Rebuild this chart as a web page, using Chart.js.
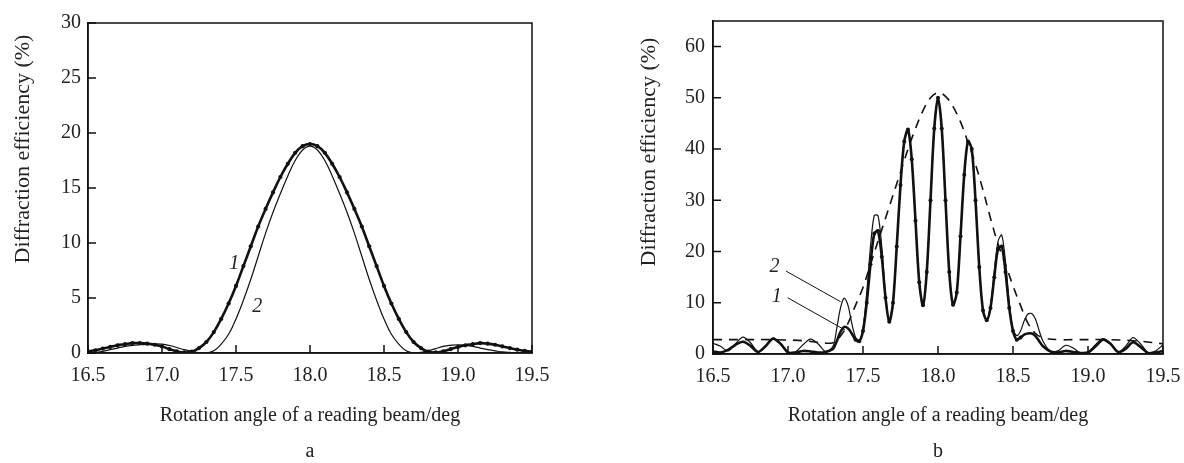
<!DOCTYPE html>
<html>
<head>
<meta charset="utf-8">
<script src="https://cdn.jsdelivr.net/npm/chart.js@4"></script>
<style>
  html,body{margin:0;padding:0;background:#fff;overflow:hidden;}
  #wrap{position:relative;width:1184px;height:463px;overflow:hidden;}
  canvas{position:absolute;top:0;}
</style>
</head>
<body>
<div id="wrap">
  <canvas id="ca" width="592" height="463" style="left:0"></canvas>
  <canvas id="cb" width="602" height="463" style="left:592px"></canvas>
</div>
<script>
// ---------- Panel a data ----------
const angleA = [16.5,16.55,16.6,16.65,16.7,16.75,16.8,16.85,16.9,16.95,
  17,17.05,17.1,17.15,17.2,17.25,17.3,17.35,17.4,17.45,
  17.5,17.55,17.6,17.65,17.7,17.75,17.8,17.85,17.9,17.95,
  18,18.05,18.1,18.15,18.2,18.25,18.3,18.35,18.4,18.45,
  18.5,18.55,18.6,18.65,18.7,18.75,18.8,18.85,18.9,18.95,
  19,19.05,19.1,19.15,19.2,19.25,19.3,19.35,19.4,19.45,19.5];
const curve1A = [0.15,0.25,0.4,0.55,0.7,0.8,0.9,0.9,0.85,0.75,
  0.6,0.35,0.15,0.05,0.12,0.45,1.0,1.9,3.1,4.5,
  6.1,7.9,9.7,11.5,13.1,14.6,16.0,17.2,18.2,18.8,
  19.0,18.8,18.2,17.2,16.0,14.6,13.1,11.5,9.7,7.9,
  6.1,4.5,3.1,1.9,1.0,0.45,0.12,0.05,0.15,0.35,
  0.55,0.7,0.8,0.9,0.85,0.75,0.6,0.45,0.3,0.2,0.1];
const curve2A = [0.05,0.05,0.15,0.3,0.45,0.6,0.7,0.75,0.78,0.82,
  0.8,0.68,0.5,0.3,0.15,0.04,0.0,0.2,0.8,1.7,
  3.1,4.8,6.7,8.8,10.9,12.8,14.5,16.1,17.5,18.45,
  18.8,18.45,17.5,16.1,14.5,12.8,10.9,8.8,6.7,4.8,
  3.1,1.7,0.8,0.2,0.0,0.05,0.2,0.4,0.6,0.7,
  0.75,0.7,0.6,0.45,0.3,0.2,0.1,0.05,0.02,0.05,0.1];
const xTicks = [16.5,17.0,17.5,18.0,18.5,19.0,19.5];
const yTicksA = [0,5,10,15,20,25,30];

// ---------- Panel b data ----------
const angleB = [16.5,16.55,16.6,16.65,16.7,16.75,16.8,16.85,16.9,16.95,17.0,17.05,17.1,17.15,17.2,17.25,
  17.3,17.325,17.35,17.375,17.4,17.425,17.45,17.475,17.5,17.525,
  17.55,17.575,17.6,17.625,17.65,17.675,17.7,17.725,17.75,17.775,
  17.8,17.825,17.85,17.875,17.9,17.925,17.95,17.975,18.0,18.025,
  18.05,18.075,18.1,18.125,18.15,18.175,18.2,18.225,18.25,18.275,
  18.3,18.325,18.35,18.375,18.4,18.425,18.45,18.475,18.5,18.525,
  18.55,18.575,18.6,18.625,18.65,18.675,18.7,
  18.75,18.8,18.85,18.9,18.95,19.0,19.05,19.1,19.15,19.2,19.25,19.3,19.35,19.4,19.45,19.5];
const curve1B = [0.5,0.3,0.8,1.8,2.4,1.6,0.4,1.5,3.0,2.0,0.3,0.3,0.6,0.5,0.3,0.4,
  1.0,2.5,4.3,5.3,5.0,4.0,2.8,2.5,4.5,10,
  17.5,23.5,24.0,19,11,6.3,10,21,33,41.5,
  43.8,38,26,14,9.5,16,30,44,50,44,
  30,16,9.6,12,23,35,41.5,40,30,17,
  8.5,6.6,9,15,20.5,21,16,9,4.5,2.8,
  3.2,3.8,4.0,4.0,3.5,2.5,1.5,
  0.5,0.3,0.6,0.4,0.2,0.3,1.5,2.8,2.0,0.4,1.0,2.3,1.4,0.2,0.3,0.6];
const curve2B = [2.1,1.5,0.6,2.0,3.3,2.2,0.4,1.6,3.1,2.0,0.2,0.4,1.8,2.9,2.0,0.5,
  1.5,5.0,9.0,10.9,9.5,6.0,3.3,2.6,5.0,12,
  21,27,27,21,11.5,6.5,10,21,33,41.5,
  43.8,38,26,14,9.5,16,30,44,50,44,
  30,16,9.6,12,23,35,41.5,40,30,17,
  8.5,6.6,9.5,16,22,23.2,18,10,4.8,3.6,
  4.5,6.5,7.8,7.9,6.8,4.5,2.5,
  0.5,0.6,1.7,1.2,0.2,0.4,1.8,3.0,2.0,0.3,1.5,3.2,2.0,0.3,0.6,1.8];
const angleEnv = [16.5,16.7,16.9,17.1,17.2,17.3,
  17.35,17.4,17.45,17.5,17.55,17.6,17.65,17.7,17.75,17.8,
  17.85,17.9,17.95,18.0,18.05,18.1,18.15,18.2,18.25,18.3,
  18.35,18.4,18.45,18.5,18.55,18.6,18.65,18.7,
  18.8,18.9,19.1,19.3,19.5];
const envB = [2.8,2.8,2.8,2.6,2.3,2.2,
  3.5,6,9.5,13,17.5,22,26.5,31,35.5,40,
  44,47.5,50,51,50.3,48.3,45.3,41.3,37,32,
  26.5,21.5,17.5,13.3,9.5,6,4,3.2,
  2.8,2.8,2.8,2.6,2.0];
const yTicksB = [0,10,20,30,40,50,60];

const xTitle = 'Rotation angle of a reading beam/deg';
const yTitle = 'Diffraction efficiency (%)';

// ---------- helpers ----------
const FONT = '"Liberation Serif", "DejaVu Serif", serif';
const INK = '#111';
const TXT = '#222';
Chart.defaults.font.family = FONT;
Chart.defaults.color = TXT;

const pts = (xs, ys) => xs.map((x, i) => ({x: x, y: ys[i]}));

const annot = {
  id: 'annot',
  afterDraw(chart, args, o) {
    const {ctx, chartArea: ca, scales} = chart;
    const sx = scales.x, sy = scales.y;
    ctx.save();
    ctx.strokeStyle = INK; ctx.lineWidth = 1.5;
    // inward tick marks
    ctx.beginPath();
    o.xt.forEach(v => { const p = sx.getPixelForValue(v); ctx.moveTo(p, ca.bottom); ctx.lineTo(p, ca.bottom - 8); });
    o.yt.forEach(v => { const p = sy.getPixelForValue(v); ctx.moveTo(ca.left, p); ctx.lineTo(ca.left + 8, p); });
    ctx.stroke();
    ctx.strokeRect(ca.left, ca.top, ca.right - ca.left, ca.bottom - ca.top);
    ctx.fillStyle = TXT;
    ctx.textAlign = 'center'; ctx.textBaseline = 'middle';
    ctx.font = '20px ' + FONT;
    const cx = (ca.left + ca.right) / 2;
    ctx.fillText(o.xTitle, cx, o.xTitleY);
    ctx.fillText(o.panel, cx, o.panelY);
    ctx.save();
    ctx.translate(o.yTitleX, o.yTitleY);
    ctx.rotate(-Math.PI / 2);
    ctx.font = '22px ' + FONT;
    ctx.fillText(o.yTitle, 0, 0);
    ctx.restore();
    ctx.font = 'italic 20px ' + FONT;
    o.labels.forEach(l => ctx.fillText(l.t, sx.getPixelForValue(l.x), sy.getPixelForValue(l.y)));
    ctx.lineWidth = 1;
    (o.leaders || []).forEach(l => {
      ctx.beginPath();
      ctx.moveTo(sx.getPixelForValue(l.x1), sy.getPixelForValue(l.y1));
      ctx.lineTo(sx.getPixelForValue(l.x2), sy.getPixelForValue(l.y2));
      ctx.stroke();
    });
    ctx.restore();
  }
};

function axes(ymax, yTicks, yWidth, xHeight, yPad) {
  const grid = {display: false, drawOnChartArea: false, drawTicks: false};
  return {
    x: {
      type: 'linear', min: 16.5, max: 19.5,
      afterBuildTicks: s => { s.ticks = xTicks.map(v => ({value: v})); },
      afterFit: s => { s.height = xHeight; },
      grid: grid,
      border: {display: true, color: INK, width: 1.5},
      ticks: {font: {size: 20}, padding: 11, color: TXT, maxRotation: 0,
        callback: v => Number(v).toFixed(1)}
    },
    y: {
      type: 'linear', min: 0, max: ymax,
      afterBuildTicks: s => { s.ticks = yTicks.map(v => ({value: v})); },
      afterFit: s => { s.width = yWidth; },
      grid: grid,
      border: {display: true, color: INK, width: 1.5},
      ticks: {font: {size: 20}, padding: yPad, color: TXT, callback: v => String(v)}
    }
  };
}

new Chart(document.getElementById('ca'), {
  type: 'line',
  data: {
    datasets: [
      {data: pts(angleA, curve1A), borderColor: INK, borderWidth: 2.6, tension: 0.4,
        pointRadius: 2.1, pointBackgroundColor: INK, pointBorderWidth: 0},
      {data: pts(angleA, curve2A), borderColor: INK, borderWidth: 1.2, tension: 0.4, pointRadius: 0}
    ]
  },
  options: {
    responsive: false, animation: false,
    layout: {padding: {left: 0, right: 60, top: 23, bottom: 0}},
    scales: axes(30, yTicksA, 88, 110, 7),
    plugins: {
      legend: {display: false}, tooltip: {enabled: false},
      annot: {xTitle: xTitle, xTitleY: 416, panel: 'a', panelY: 452,
        yTitle: yTitle, yTitleX: 23, yTitleY: 149, xt: xTicks, yt: yTicksA,
        labels: [{t: '1', x: 17.488, y: 8.1}, {t: '2', x: 17.644, y: 4.2}]}
    }
  },
  plugins: [annot]
});

new Chart(document.getElementById('cb'), {
  type: 'line',
  data: {
    datasets: [
      {data: pts(angleB, curve1B), borderColor: INK, borderWidth: 2.6, tension: 0.3,
        pointRadius: c => { const v = angleB[c.dataIndex]; return (v >= 17.45 && v <= 18.55) ? 2 : 0; },
        pointBackgroundColor: INK, pointBorderWidth: 0},
      {data: pts(angleB, curve2B), borderColor: INK, borderWidth: 1.2, tension: 0.3, pointRadius: 0},
      {data: pts(angleEnv, envB), borderColor: INK, borderWidth: 1.6, borderDash: [9, 7], tension: 0.4, pointRadius: 0}
    ]
  },
  options: {
    responsive: false, animation: false,
    layout: {padding: {left: 0, right: 31, top: 21, bottom: 0}},
    scales: axes(65, yTicksB, 121, 109, 8),
    plugins: {
      legend: {display: false}, tooltip: {enabled: false},
      annot: {xTitle: xTitle, xTitleY: 416, panel: 'b', panelY: 452,
        yTitle: yTitle, yTitleX: 57, yTitleY: 152, xt: xTicks, yt: yTicksB,
        labels: [{t: '2', x: 16.91, y: 17.0}, {t: '1', x: 16.925, y: 11.2}],
        leaders: [{x1: 16.987, y1: 16.18, x2: 17.351, y2: 10.2},
                  {x1: 16.998, y1: 10.98, x2: 17.38, y2: 4.68}]}
    }
  },
  plugins: [annot]
});
</script>
</body>
</html>
